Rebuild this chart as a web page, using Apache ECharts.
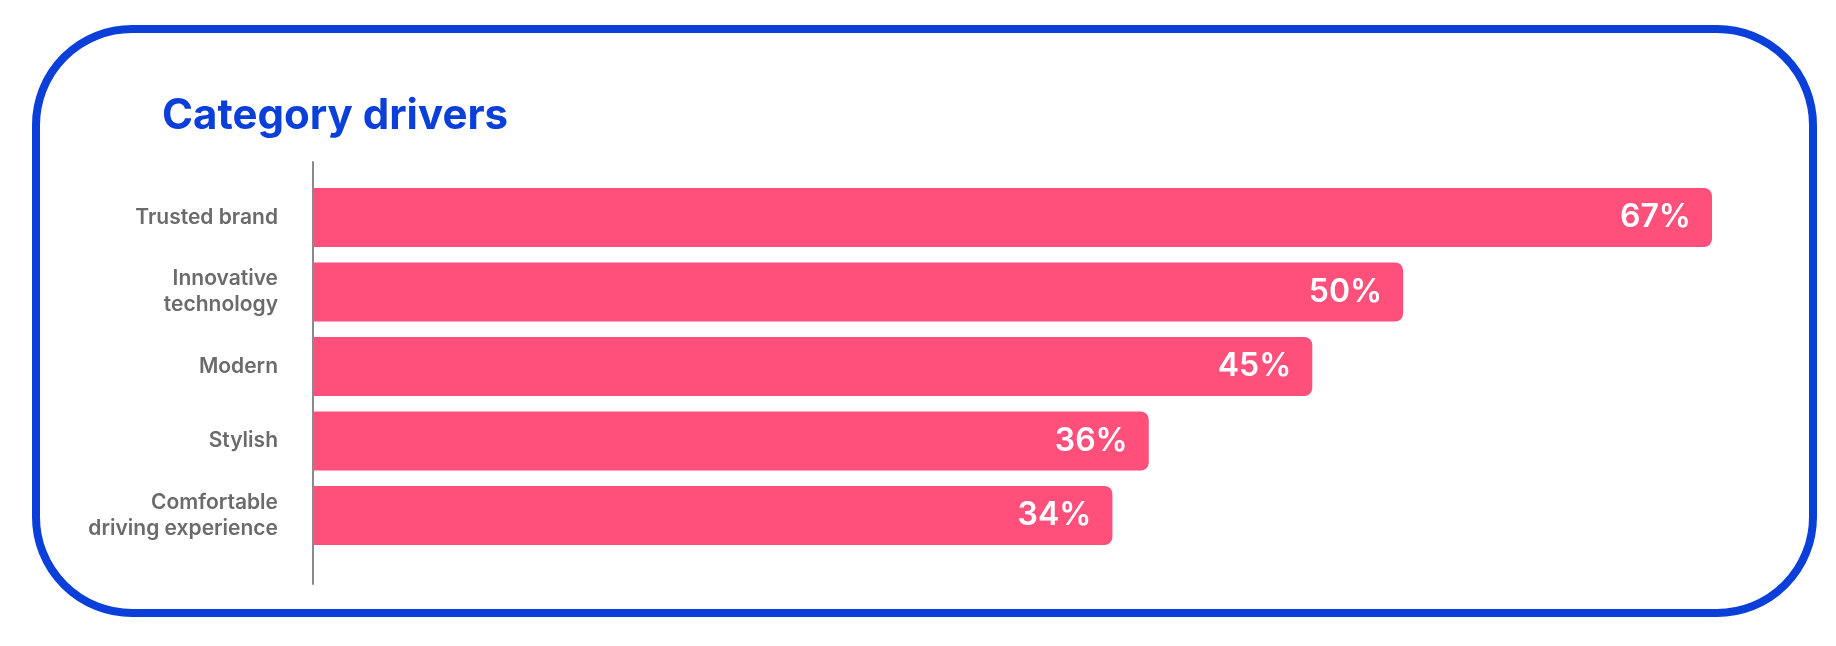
<!DOCTYPE html>
<html>
<head>
<meta charset="utf-8">
<script src="https://cdn.jsdelivr.net/npm/echarts@6/dist/echarts.min.js"></script>
<style>
  html, body { margin: 0; padding: 0; background: #ffffff; }
  #chart { width: 1836px; height: 646px; }
</style>
</head>
<body>
<div id="chart"></div>
<script>
const titleText = 'Category drivers';
const categories = ['Trusted brand', 'Innovative\ntechnology', 'Modern', 'Stylish', 'Comfortable\ndriving experience'];
const values = [67, 50, 45, 36, 34];
const axisMin = -10;
const axisMax = 70;

const BLUE = '#0a3fd9';
const PINK = '#ff4f7b';
const GREY = '#6b6b6b';

const chart = echarts.init(document.getElementById('chart'), null, { renderer: 'canvas' });

const option = {
  backgroundColor: '#ffffff',
  animation: false,
  title: {
    text: titleText,
    left: 157,
    top: 90,
    textStyle: { fontFamily: 'Inter', fontWeight: 700, fontSize: 42, color: BLUE }
  },
  graphic: [{
    type: 'rect',
    shape: { x: 36, y: 29, width: 1777, height: 584, r: 96 },
    style: { fill: 'none', stroke: BLUE, lineWidth: 8 },
    silent: true,
    z: -1
  }],
  grid: [
    { left: 313, right: 69.5, top: 180.25, bottom: 93.25 },
    { left: 313, width: 10, top: 162, bottom: 62 }
  ],
  xAxis: [
    { gridIndex: 0, type: 'value', min: axisMin, max: axisMax, show: false },
    { gridIndex: 1, type: 'value', min: 0, max: 1, show: false }
  ],
  yAxis: [
    {
      gridIndex: 0,
      type: 'category',
      data: categories,
      inverse: true,
      axisLine: { show: false },
      axisTick: { show: false },
      splitLine: { show: false },
      axisLabel: {
        margin: 35,
        fontFamily: 'Inter',
        fontWeight: 600,
        fontSize: 21,
        lineHeight: 26,
        color: GREY,
        align: 'right',
        padding: [8, 0, 0, 0]
      }
    },
    {
      gridIndex: 1,
      type: 'value',
      min: 0, max: 1,
      axisLine: { show: true, lineStyle: { color: '#8a8a8a', width: 2 } },
      axisTick: { show: false },
      axisLabel: { show: false },
      splitLine: { show: false }
    }
  ],
  series: [{
    type: 'custom',
    xAxisIndex: 0,
    yAxisIndex: 0,
    data: values.map((v, i) => [v, i]),
    encode: { x: 0, y: 1 },
    renderItem: function (params, api) {
      const val = api.value(0);
      const cat = api.value(1);
      const end = api.coord([val, cat]);
      const start = api.coord([axisMin, cat]);
      const h = api.size([0, 1])[1] * 0.792;
      return {
        type: 'rect',
        shape: { x: start[0] + 1, y: end[1] - h / 2, width: end[0] - start[0] - 1, height: h, r: [0, 8, 8, 0] },
        style: { fill: PINK },
        textContent: {
          style: {
            text: val + '%',
            fill: '#ffffff',
            fontFamily: 'Inter',
            fontWeight: 600,
            fontSize: 32,
            padding: [3, 0, 0, 0]
          }
        },
        textConfig: { position: 'insideRight', distance: 21 }
      };
    }
  }]
};

chart.setOption(option);
</script>
</body>
</html>
